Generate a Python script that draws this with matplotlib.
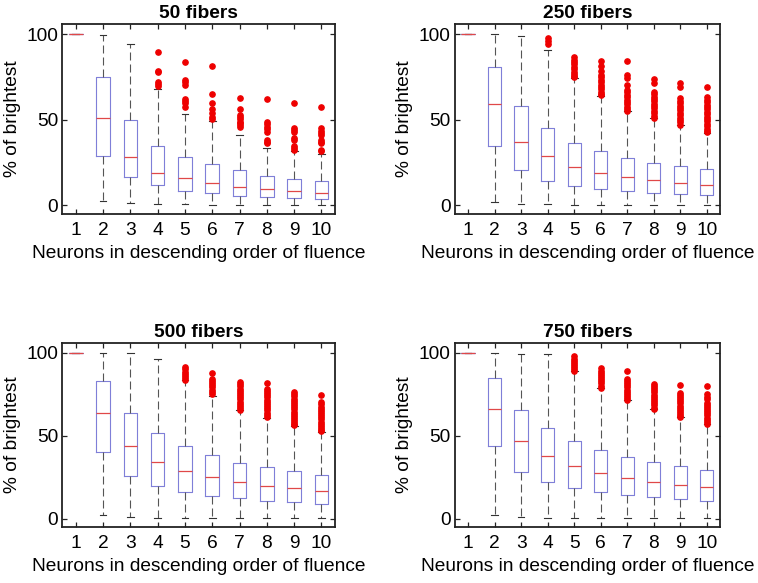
import numpy as np
import matplotlib
matplotlib.use("Agg")
import matplotlib.pyplot as plt

plt.rcParams['font.family'] = ['Liberation Sans', 'DejaVu Sans']

positions = [1, 2, 3, 4, 5, 6, 7, 8, 9, 10]
titles = ["50 fibers", "250 fibers", "500 fibers", "750 fibers"]

# box statistics (% of brightest)
med_50 = [100, 50.9, 28.0, 19.0, 15.9, 13.0, 10.7, 9.5, 8.3, 7.2]
q1_50 = [100, 29.1, 16.7, 11.8, 8.7, 7.2, 5.4, 4.7, 4.1, 3.7]
q3_50 = [100, 75.1, 49.7, 34.8, 28.0, 24.1, 20.6, 17.1, 15.3, 14.2]
lo_50 = [100, 2.3, 1.6, 0.8, 0.6, 0.4, 0.4, 0.2, 0.2, 0.2]
hi_50 = [100, 99.4, 94.2, 67.8, 53.4, 49.3, 41.0, 33.8, 31.5, 30.1]
fl_50 = [[], [], [],
         [89.5, 78.4, 77.9, 72.0, 70.9, 69.7],
         [83.9, 73.2, 71.8, 70.1, 62.3, 61.2, 60.0, 57.3],
         [81.7, 64.9, 59.6, 56.5, 53.8, 51.8, 50.7],
         [62.5, 56.1, 52.8, 51.5, 50.2, 49.0, 48.0, 47.0, 46.0],
         [62.0, 48.9, 47.5, 46.0, 44.5, 43.1, 38.3, 37.3, 36.3],
         [59.6, 45.0, 44.0, 43.0, 39.5, 38.3, 34.4, 33.4, 32.4],
         [57.3, 45.0, 43.5, 42.2, 41.0, 38.3, 37.2, 36.3, 32.4, 31.5]]

med_250 = [100, 59.0, 36.9, 28.9, 22.7, 18.8, 16.5, 14.8, 13.2, 12.2]
q1_250 = [100, 34.6, 20.8, 14.4, 11.5, 9.5, 8.2, 7.2, 6.6, 5.8]
q3_250 = [100, 80.6, 58.0, 45.0, 36.7, 31.5, 27.4, 25.0, 22.9, 21.0]
lo_250 = [100, 1.9, 0.8, 0.6, 0.4, 0.2, 0.2, 0.2, 0.2, 0.2]
hi_250 = [100, 100, 98.8, 90.7, 74.2, 64.1, 55.1, 50.9, 46.8, 42.5]
fl_250 = [[], [], [],
          [97.5, 96.0, 94.0],
          [86.6, 85.2, 83.8, 82.4, 81.0, 79.6, 78.2, 76.8, 75.4, 74.8],
          [84.3, 81.4, 78.5, 76.1, 74.7, 73.3, 71.9, 70.5, 69.1, 67.7, 66.3, 64.9, 64.5],
          [84.1, 76.1, 74.5, 70.3, 67.4, 66.0, 64.6, 63.2, 61.8, 60.4, 59.0, 57.6, 56.2, 55.3],
          [73.6, 71.3, 66.4, 65.0, 63.6, 62.2, 60.8, 59.4, 58.0, 56.6, 55.2, 53.8, 52.4, 51.0],
          [71.6, 69.3, 62.5, 61.1, 59.7, 58.3, 56.9, 55.5, 54.1, 52.7, 51.3, 49.9, 48.5, 47.1],
          [69.3, 63.1, 61.7, 60.3, 58.9, 57.5, 56.1, 54.7, 53.3, 51.9, 50.5, 49.1, 47.7,
           46.3, 44.9, 43.5, 43.1]]

med_500 = [100, 63.9, 44.0, 34.3, 28.9, 25.3, 21.9, 19.9, 18.3, 16.9]
q1_500 = [100, 40.4, 25.9, 19.9, 16.3, 13.9, 12.2, 10.8, 9.8, 9.0]
q3_500 = [100, 82.7, 63.7, 51.4, 43.6, 38.4, 33.7, 31.3, 28.9, 26.5]
lo_500 = [100, 2.4, 0.8, 0.4, 0.2, 0.2, 0.2, 0.2, 0.2, 0.2]
hi_500 = [100, 100, 100, 96.4, 83.3, 74.1, 65.3, 60.8, 56.0, 52.4]
fl_500 = [[], [], [], [],
          [91.3, 90.0, 88.7, 87.4, 86.1, 84.8, 83.7],
          [87.7, 84.3, 83.0, 81.7, 80.4, 79.1, 77.8, 76.5, 75.3],
          [82.3, 81.0, 79.7, 78.4, 77.1, 75.8, 74.5, 73.2, 71.9, 70.6, 69.3, 68.0, 66.7, 65.3],
          [81.7, 78.3, 77.0, 75.7, 74.4, 73.1, 71.8, 70.5, 69.2, 67.9, 66.6, 65.3, 64.0,
           62.7, 61.2],
          [76.3, 75.0, 73.7, 72.4, 71.1, 69.8, 68.5, 67.2, 65.9, 64.6, 63.3, 62.0, 60.7,
           59.4, 58.1, 56.8, 56.2],
          [74.3, 70.2, 68.9, 67.6, 66.3, 65.0, 63.7, 62.4, 61.1, 59.8, 58.5, 57.2, 55.9,
           54.6, 53.3, 52.8]]

med_750 = [100, 66.3, 46.8, 37.6, 31.5, 27.3, 24.3, 22.1, 20.5, 18.9]
q1_750 = [100, 43.6, 28.3, 22.3, 18.7, 16.3, 14.5, 12.9, 11.6, 10.8]
q3_750 = [100, 84.7, 65.7, 54.6, 46.8, 41.6, 37.3, 34.3, 31.9, 29.5]
lo_750 = [100, 2.0, 0.8, 0.6, 0.4, 0.4, 0.4, 0.2, 0.2, 0.2]
hi_750 = [100, 100, 99.4, 99.4, 89.2, 78.9, 71.7, 66.1, 61.2, 57.2]
fl_750 = [[], [], [], [],
          [97.8, 96.5, 95.2, 93.9, 92.6, 91.3, 90.0, 89.2],
          [90.6, 89.3, 88.0, 86.7, 85.4, 84.1, 82.8, 81.5, 80.2, 78.9],
          [89.2, 84.3, 83.0, 81.7, 80.4, 79.1, 77.8, 76.5, 75.2, 73.9, 72.6, 71.7],
          [81.3, 80.0, 78.7, 77.4, 76.1, 74.8, 73.5, 72.2, 70.9, 69.6, 68.3, 67.0, 66.1],
          [80.3, 76.0, 74.7, 73.4, 72.1, 70.8, 69.5, 68.2, 66.9, 65.6, 64.3, 63.0, 61.7, 61.2],
          [80.1, 75.0, 73.5, 72.0, 70.0, 68.7, 67.4, 66.1, 64.8, 63.5, 62.2, 60.9, 59.6,
           58.3, 57.2]]

panels = [
    (med_50, q1_50, q3_50, lo_50, hi_50, fl_50),
    (med_250, q1_250, q3_250, lo_250, hi_250, fl_250),
    (med_500, q1_500, q3_500, lo_500, hi_500, fl_500),
    (med_750, q1_750, q3_750, lo_750, hi_750, fl_750),
]

# axes rectangles in figure fractions
rects = [
    [0.082, 0.633, 0.360, 0.326],
    [0.600, 0.633, 0.350, 0.326],
    [0.082, 0.096, 0.360, 0.316],
    [0.600, 0.096, 0.350, 0.316],
]

box_color = "#7f7fd8"
med_color = "#e04848"
fs = 13.8

fig = plt.figure(figsize=(7.58, 5.83), dpi=100)

for title, rect, (med, q1, q3, lo, hi, fl) in zip(titles, rects, panels):
    ax = fig.add_axes(rect)
    stats = []
    for i in range(len(positions)):
        stats.append(dict(med=med[i], q1=q1[i], q3=q3[i],
                          whislo=lo[i], whishi=hi[i], fliers=fl[i]))
    ax.bxp(stats, positions=positions, widths=0.5,
           boxprops=dict(color=box_color, linewidth=0.8),
           medianprops=dict(color=med_color, linewidth=0.9),
           whiskerprops=dict(color="#555555", linestyle=(0, (7.2, 3.6)), linewidth=0.8),
           capprops=dict(color="#333333", linewidth=0.8),
           flierprops=dict(marker="o", markerfacecolor="#ee0000",
                           markeredgecolor="#ee0000", markersize=3.8))
    ax.set_xlim(0.5, 10.5)
    ax.set_ylim(-5, 106)
    ax.set_xticks(positions)
    ax.set_xticklabels([str(p) for p in positions])
    ax.set_yticks([0, 50, 100])
    ax.tick_params(direction="in", top=True, right=True, length=3.5,
                   width=0.9, labelsize=fs, color="#222222")
    ax.tick_params(axis="x", pad=6)
    ax.tick_params(axis="y", pad=3)
    for sp in ax.spines.values():
        sp.set_linewidth(1.3)
        sp.set_color("#222222")
    ax.set_title(title, fontsize=fs, fontweight="bold", pad=4)
    ax.set_xlabel("Neurons in descending order of fluence", fontsize=fs, labelpad=4)
    ax.set_ylabel("% of brightest", fontsize=fs, labelpad=4)

fig.savefig("out.png", dpi=100)
